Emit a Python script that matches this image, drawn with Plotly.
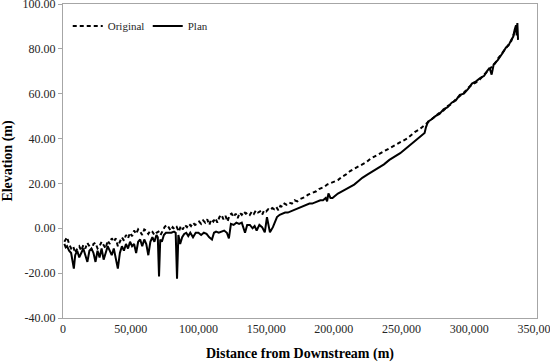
import plotly.graph_objects as go

orig_x = [1000, 2000, 3000, 4500, 6000, 7500, 9000, 10500, 12000, 13500, 15000, 16500, 18000, 19500,
          21000, 22500, 24000, 25500, 27000, 28500, 30000, 31500, 33000, 34500, 36000, 37500, 39000,
          40500, 42000, 43500, 45000, 46500, 48000, 49500, 51000, 52500, 54000, 55500, 57000, 58500,
          60000, 61500, 63000, 64500, 66000, 67500, 69000, 70500, 72000, 73500, 75000, 76500, 78000,
          79500, 81000, 82500, 84000, 85500, 87000, 88500, 90000, 91500, 93000, 94500, 96000, 97500,
          99000, 100500, 102000, 103500, 105000, 106500, 108000, 109500, 111000, 112500, 114000,
          115500, 117000, 118500, 120000, 121500, 123000, 124500, 126000, 127500, 129000, 130500,
          132000, 133500, 135000, 136500, 138000, 139500, 141000, 142500, 144000, 145500, 147000,
          148500, 150000, 151500, 153000, 154500, 156000, 157500, 159000, 160500, 162000, 163500,
          165000, 167000, 169000, 171000, 173000, 175000, 177000, 179000, 181000, 183000, 185000,
          187000, 189000, 191000, 193000, 195000, 197000, 199000, 201000, 203000, 206000, 209000,
          212000, 215000, 218000, 221000, 224000, 227000, 230000, 233000, 236000, 239000, 242000,
          245000, 248000, 251000, 254000, 257000, 260000, 263000, 266000, 269000, 272000, 275000,
          278000, 281000, 284000, 287000, 290000, 293000, 296000, 299000, 302000, 305000, 308000,
          311000, 314000, 317000, 319000, 321000, 323000, 325000, 327000, 329000, 331000, 332500,
          333500, 334500, 335500]
orig_y = [-6, -5, -4, -7, -9, -8, -11, -9, -8, -10, -7.5, -9, -6.5, -8,
          -10, -7, -6.5, -9, -8, -6, -7.5, -9, -5.5, -7, -4.5, -6, -4.5,
          -8, -6, -4, -5.5, -3, -4.5, -2, -3.5, -1, -2.5, -0.5, -1.5, -3,
          -0.5, -1, -2.5, -1, -1.5, -3, -2, -1.5, -3, -1, 0.5, 1.5, 0.5,
          -1, 0.5, -0.5, 0.5, -1.5, 1, -0.5, 1.5, 0.5, 2, 1, 2.5, 1.5,
          2, 3, 2, 3.5, 2.5, 4, 1.5, 4, 3, 4.5, 2.5,
          5, 6, 4, 5.5, 3, 6, 6.5, 5, 6.5, 4.5, 7,
          6, 7.5, 6.5, 7, 6, 7.5, 6.5, 8, 7, 7.5, 6,
          8, 7.5, 8.5, 8, 9, 8.5, 9.5, 8, 10, 9.5, 11,
          10.5, 11.5, 11, 12.5, 12, 13, 13.5, 14, 15, 15.5, 16,
          16.5, 17.5, 18, 18.5, 19.5, 20, 20.5, 21, 21.5, 23, 24,
          25.5, 26.5, 27.5, 28.5, 29.5, 31, 32, 33, 34, 35, 36,
          37, 38, 39, 40, 41.5, 43, 44, 45.5, 47, 48.5, 50,
          51.5, 52.5, 54.5, 55.5, 57.5, 59, 60.5, 62.5, 64, 65, 66.5,
          68.5, 70.5, 72.5, 73.5, 75.5, 77, 79, 80, 82, 83.5, 86,
          88, 89.5, 91]

plan_x = [1000, 2000, 3000, 4500, 6000, 7000, 8000, 9000, 10500, 12000, 13500, 15000, 16500, 18000,
          19500, 21000, 22500, 24000, 25500, 27000, 28500, 30000, 31500, 33000, 34500, 36000, 37500,
          39000, 40500, 42000, 43500, 45000, 46500, 48000, 49500, 51000, 52500, 54000, 55500, 57000,
          58500, 60000, 61500, 63000, 64500, 66000, 67500, 69000, 70000, 70900, 71800, 73000, 74500,
          76000, 78000, 80000, 82000, 83200, 84200, 85200, 86500, 88000, 89500, 91000, 92500, 94000,
          96000, 98000, 100000, 102000, 104000, 106000, 108000, 110000, 111500, 113000, 115000,
          117000, 119000, 121000, 122500, 124000, 126000, 128000, 130000, 132000, 134400, 136000,
          138000, 140000, 141500, 143000, 145000, 147000, 149000, 150600, 152800, 155000, 156500,
          158000, 160000, 162000, 164000, 166000, 168000, 170000, 172000, 174000, 176000, 178000,
          180000, 182000, 184000, 186000, 188000, 190000, 192000, 194000, 195000, 196000, 197500,
          199000, 201000, 203000, 206000, 209000, 212000, 215000, 218000, 221000, 225000, 229000,
          233000, 237000, 241000, 245000, 249000, 253000, 257000, 261000, 265000, 267000, 268000,
          269500, 272000, 275000, 278000, 281000, 284000, 287000, 290000, 293000, 296000, 299000,
          302000, 305000, 308000, 311000, 313000, 315000, 316500, 318000, 321000, 323000, 325000,
          327000, 329000, 331000, 332500, 333500, 334500, 335000, 335500, 336000]
plan_y = [-7, -8.5, -8, -10, -11, -14, -18, -12, -10, -13, -11, -9, -12, -15,
          -10, -9, -11, -15, -10, -13, -9, -14, -11, -8, -10, -12, -9,
          -13, -18, -11, -8, -10, -7, -9, -6, -8, -7, -11, -6, -5,
          -8, -5, -7, -12, -6, -4, -6, -3, -4, -21.5, -5, -6, -3,
          -2, -2, -2, -1.5, -2, -22.5, -3, -7, -4, -2.5, -2, -3.5, -2,
          -4, -2, -2, -3, -2, -2.5, -4, -5, -2, -1.5, -2,
          -1.5, -1, -2, -4.5, 2, 1.5, 2.5, 2, 2.5, -2, 1.5,
          1.5, 0, 1, -1, 1.5, 0.5, -1.8, 5, -1.8, 0.5, 3,
          5, 6, 6.5, 7, 7, 7.5, 8, 8.5, 9, 9.5, 10,
          10.5, 11, 11, 11.5, 12, 12.5, 12.5, 13.5, 12, 15.5, 13.5,
          13.5, 14.5, 15.5, 16.5, 17.5, 18.5, 19.5, 21, 22.5, 24, 25.5,
          27, 28.5, 30.5, 32, 33.5, 35.5, 37.5, 39.5, 41.5, 42.5, 45,
          47.5, 48.5, 50, 51, 53, 54, 56, 57, 59.5, 60, 62,
          64.5, 65.5, 67, 68, 70, 71.5, 68.5, 73, 75, 76.5, 78.5,
          80.5, 81.5, 84, 85.5, 88.5, 90.5, 86, 91.5, 84]

x_ticks = [0, 50000, 100000, 150000, 200000, 250000, 300000, 350000]
x_tick_text = ["0", "50,000", "100,000", "150,000", "200,000", "250,000", "300,000", "350,000"]
y_ticks = [-40, -20, 0, 20, 40, 60, 80, 100]
y_tick_text = ["-40.00", "-20.00", "0.00", "20.00", "40.00", "60.00", "80.00", "100.00"]

ff = "Liberation Serif"
axis_color = "#a6a6a6"
txt = "#262626"

fig = go.Figure()
fig.add_trace(go.Scatter(x=orig_x, y=orig_y, mode="lines", name="Original",
                         line=dict(color="black", width=2, dash="4px,3px")))
fig.add_trace(go.Scatter(x=plan_x, y=plan_y, mode="lines", name="Plan",
                         line=dict(color="black", width=2)))

fig.update_layout(
    width=550, height=362,
    margin=dict(l=63, r=13, t=4, b=44),
    paper_bgcolor="white", plot_bgcolor="white",
    font=dict(family=ff, color=txt, size=12),
    showlegend=True,
    legend=dict(orientation="h", x=0.01, y=0.93, xanchor="left", yanchor="middle",
                font=dict(family=ff, size=11, color=txt),
                bgcolor="rgba(0,0,0,0)", itemwidth=30, traceorder="normal",
                entrywidth=35, entrywidthmode="pixels"),
    xaxis=dict(range=[0, 350000], tickvals=x_ticks, ticktext=x_tick_text,
               showgrid=False, zeroline=False, showline=True, linecolor=axis_color,
               linewidth=1, mirror=True, ticks="", ticklabeloverflow="allow",
               automargin=False,
               tickfont=dict(family=ff, size=12, color=txt),
               title=dict(text="<b>Distance from Downstream (m)</b>",
                          font=dict(family=ff, size=14, color="black"))),
    yaxis=dict(range=[-40, 100], tickvals=y_ticks, ticktext=y_tick_text,
               showgrid=False, zeroline=False, showline=True, linecolor=axis_color,
               linewidth=1, mirror=True, ticks="outside", ticklen=4, tickcolor=axis_color,
               ticklabeloverflow="allow", automargin=False,
               tickfont=dict(family=ff, size=12, color=txt),
               title=dict(text="<b>Elevation (m)</b>",
                          font=dict(family=ff, size=14, color="black"))),
)

fig.write_html("out.html")
